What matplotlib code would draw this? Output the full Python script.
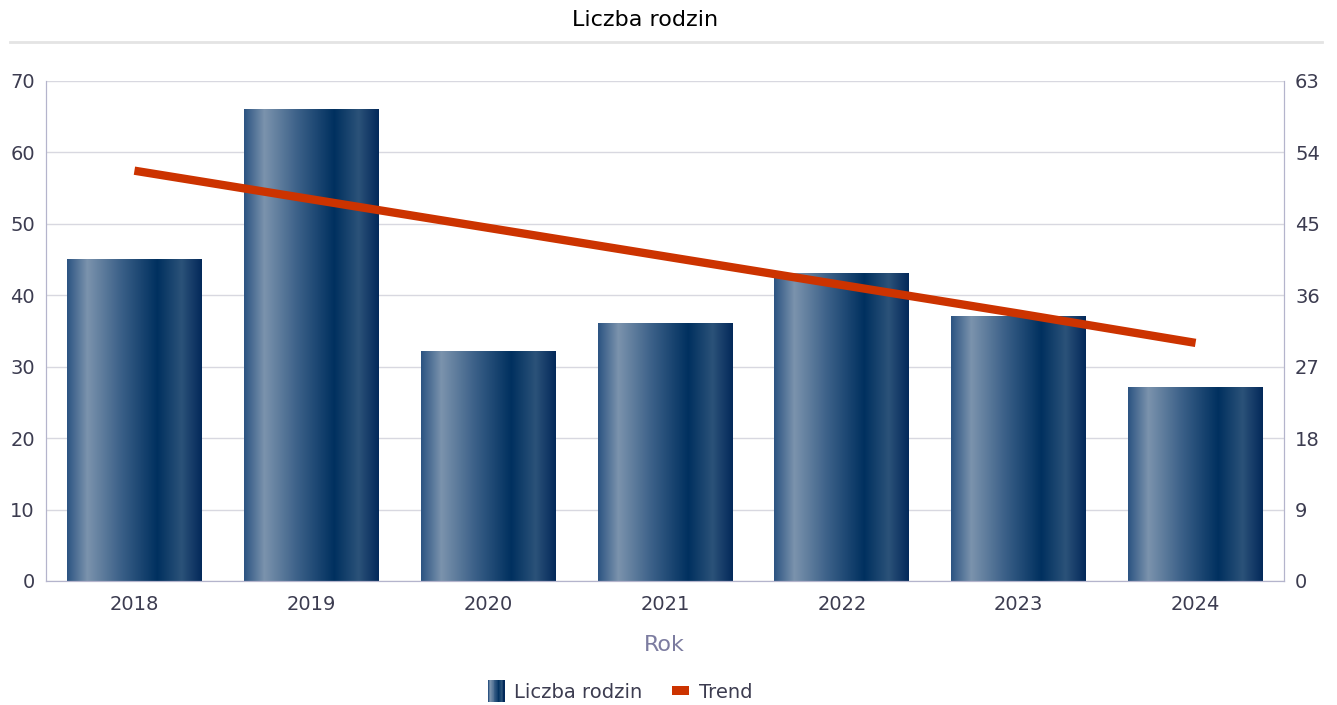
import numpy as np
import matplotlib.pyplot as plt
from matplotlib.colors import LinearSegmentedColormap
from matplotlib.legend_handler import HandlerBase
from matplotlib.patches import Rectangle
from matplotlib.lines import Line2D

plt.rcParams['font.family'] = ['DejaVu Sans']

years = ['2018', '2019', '2020', '2021', '2022', '2023', '2024']
families = [45, 66, 32.2, 36.1, 43, 37, 27.1]
trend = [51.7, 48.1, 44.5, 40.9, 37.3, 33.7, 30.0]

bar_cmap = LinearSegmentedColormap.from_list('bar', [
    (0.0, '#2c5482'), (0.15, '#7b93ad'), (0.40, '#3b6088'),
    (0.67, '#00305f'), (0.85, '#2b5279'), (1.0, '#03295a')])
tick_color = '#3c3c50'
spine_color = '#b4b4cc'

fig = plt.figure(figsize=(13.37, 7.05), dpi=100)
ax = fig.add_axes([46 / 1337, 124 / 705, 1238 / 1337, 500 / 705])
ax2 = ax.twinx()

x = np.arange(len(years))
bars = ax.bar(x, families, width=0.763, color='none', zorder=2)
grad = np.linspace(0, 1, 256).reshape(1, -1)
for b in bars:
    ax.imshow(grad, cmap=bar_cmap, aspect='auto', zorder=2,
              extent=[b.get_x(), b.get_x() + b.get_width(), 0, b.get_height()])

ax2.plot(x, trend, color='#cc3300', lw=6, solid_capstyle='butt', zorder=3)

ax.set_xlim(-0.5, len(years) - 0.5)
ax.set_ylim(0, 70)
ax.set_yticks(range(0, 71, 10))
ax2.set_ylim(0, 63)
ax2.set_yticks(range(0, 64, 9))
ax.set_xticks(x, years)
ax.grid(axis='y', color='#d8d8e0', lw=1, zorder=0)
ax.set_axisbelow(True)

for a in (ax, ax2):
    a.tick_params(length=0, labelsize=14, colors=tick_color, pad=8)
    a.spines['top'].set_visible(False)
    for s in ['left', 'right', 'bottom']:
        a.spines[s].set_color(spine_color)
ax.tick_params(axis='x', pad=10)

fig.text(645 / 1337, 1 - 20 / 705, 'Liczba rodzin', ha='center', va='center', fontsize=16, color='black')
fig.add_artist(Line2D([10 / 1337, 1322 / 1337], [1 - 42 / 705] * 2, color='#e4e4e4', lw=2,
                      transform=fig.transFigure))
fig.text(664 / 1337, 1 - 645 / 705, 'Rok', ha='center', va='center', fontsize=16, color='#7c7ca0')


class GradientHandler(HandlerBase):
    def create_artists(self, legend, orig_handle, xdescent, ydescent, width, height, fontsize, trans):
        w = height * 1.2
        x0 = -xdescent + (width - w) / 2
        n = 20
        arts = []
        for i in range(n):
            arts.append(Rectangle((x0 + i * w / n, -ydescent - height * 0.3), w / n + 0.3, height * 1.6,
                                  facecolor=bar_cmap(i / (n - 1)), edgecolor='none', transform=trans))
        return arts


class LineBoxHandler(HandlerBase):
    def create_artists(self, legend, orig_handle, xdescent, ydescent, width, height, fontsize, trans):
        w = height * 1.2
        x0 = -xdescent + (width - w) / 2
        return [Rectangle((x0, -ydescent + height * 0.18), w, height * 0.64,
                          facecolor='#cc3300', edgecolor='none', transform=trans)]


bar_h = Rectangle((0, 0), 1, 1)
line_h = Line2D([], [])
fig.legend([bar_h, line_h], ['Liczba rodzin', 'Trend'], loc='center',
           bbox_to_anchor=(618 / 1337, 1 - 692 / 705), ncol=2, frameon=False,
           fontsize=14, labelcolor=tick_color, handlelength=1.3, handletextpad=0.3, columnspacing=1.3,
           handler_map={Rectangle: GradientHandler(), Line2D: LineBoxHandler()})

fig.savefig('out.png', dpi=100)
